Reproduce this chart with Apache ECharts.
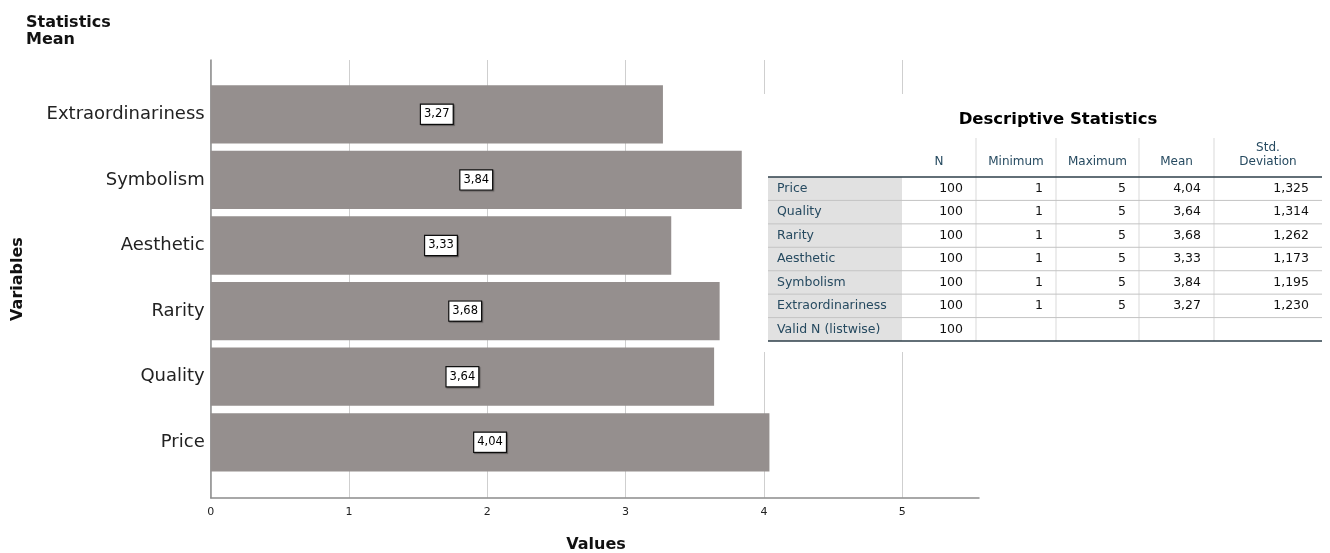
<!DOCTYPE html>
<html>
<head>
<meta charset="utf-8">
<script src="https://cdn.jsdelivr.net/npm/echarts@6/dist/echarts.min.js"></script>
<style>
  html, body { margin: 0; padding: 0; background: #fff; }
  #chart { width: 1330px; height: 553px; }
</style>
</head>
<body>
<div id="chart"></div>
<script>
// ---- Chart data ----
const categories = ['Price', 'Quality', 'Rarity', 'Aesthetic', 'Symbolism', 'Extraordinariness'];
const means = [4.04, 3.64, 3.68, 3.33, 3.84, 3.27];
const xTicks = [0, 1, 2, 3, 4, 5];

// ---- Table data ----
const tableTitle = 'Descriptive Statistics';
const tableHeaders = ['N', 'Minimum', 'Maximum', 'Mean', 'Std.\nDeviation'];
const tableRows = ['Price', 'Quality', 'Rarity', 'Aesthetic', 'Symbolism', 'Extraordinariness', 'Valid N (listwise)'];
const tableN = ['100', '100', '100', '100', '100', '100', '100'];
const tableMin = ['1', '1', '1', '1', '1', '1', ''];
const tableMax = ['5', '5', '5', '5', '5', '5', ''];
const tableMean = ['4,04', '3,64', '3,68', '3,33', '3,84', '3,27', ''];
const tableStd = ['1,325', '1,314', '1,262', '1,173', '1,195', '1,230', ''];

const FONT = 'DejaVu Sans';
const chart = echarts.init(document.getElementById('chart'), null, { renderer: 'canvas' });

// Plot geometry
const plotLeft = 210.7, plotTop = 60, plotBottom = 497.7;
const unit = 138.3;
const axisEnd = 979;

// ---- Build table graphic ----
const colX = [768, 902, 976, 1056, 1139, 1214, 1322];
const headTop = 138, headLine = 177, rowH = 23.43;
const headColor = '#264a60';
const g = [];
g.push({ type: 'rect', shape: { x: 761, y: 94, width: 565, height: 258 }, style: { fill: '#fff' }, z: 10 });
g.push({ type: 'text', x: 1058, y: 120, z: 11, style: { text: tableTitle, font: 'bold 16.5px ' + FONT, fill: '#000', align: 'center', verticalAlign: 'middle' } });
// header vertical dividers
for (let c = 2; c <= 5; c++) {
  g.push({ type: 'line', z: 11, shape: { x1: colX[c], y1: headTop, x2: colX[c], y2: headLine + rowH * tableRows.length }, style: { stroke: '#d9d9d9', lineWidth: 1 } });
}
// header labels
tableHeaders.forEach((h, i) => {
  const cx = (colX[i + 1] + colX[i + 2]) / 2;
  g.push({ type: 'text', x: cx, y: 169, z: 11, style: { text: h, font: '12px ' + FONT, fill: headColor, align: 'center', verticalAlign: 'bottom', lineHeight: 14 } });
});
// row header gray background
g.push({ type: 'rect', z: 10.5, shape: { x: colX[0], y: headLine, width: colX[1] - colX[0], height: rowH * tableRows.length }, style: { fill: '#e1e1e1' } });
// rows
const cols = [tableN, tableMin, tableMax, tableMean, tableStd];
tableRows.forEach((r, i) => {
  const yc = headLine + rowH * i + rowH / 2;
  g.push({ type: 'text', x: 777, y: yc, z: 11, style: { text: r, font: '12.5px ' + FONT, fill: headColor, align: 'left', verticalAlign: 'middle' } });
  cols.forEach((col, c) => {
    g.push({ type: 'text', x: colX[c + 2] - 13, y: yc, z: 11, style: { text: col[i], font: '12.5px ' + FONT, fill: '#111', align: 'right', verticalAlign: 'middle' } });
  });
  if (i > 0) {
    const yl = headLine + rowH * i;
    g.push({ type: 'line', z: 11, shape: { x1: colX[0], y1: yl, x2: colX[6], y2: yl }, style: { stroke: '#c4c4c4', lineWidth: 1 } });
  }
});
g.push({ type: 'line', z: 12, shape: { x1: colX[0], y1: headLine, x2: colX[6], y2: headLine }, style: { stroke: '#2e3f4a', lineWidth: 1.5 } });
const bottomY = headLine + rowH * tableRows.length;
g.push({ type: 'line', z: 12, shape: { x1: colX[0], y1: bottomY, x2: colX[6], y2: bottomY }, style: { stroke: '#2e3f4a', lineWidth: 1.5 } });

// axis titles
g.push({ type: 'text', x: 596, y: 545, z: 5, style: { text: 'Values', font: 'bold 16px ' + FONT, fill: '#111', align: 'center', verticalAlign: 'middle' } });
g.push({ type: 'text', x: 18, y: 279, rotation: Math.PI / 2, z: 5, style: { text: 'Variables', font: 'bold 16px ' + FONT, fill: '#111', align: 'center', verticalAlign: 'middle' } });

const plotW5 = unit * 5;
const option = {
  animation: false,
  backgroundColor: '#fff',
  title: {
    text: 'Statistics\nMean',
    left: 21, top: 9,
    textStyle: { fontFamily: FONT, fontWeight: 'bold', fontSize: 16, color: '#111', lineHeight: 17 }
  },
  grid: [
    { left: plotLeft, top: plotTop, width: axisEnd - plotLeft, height: plotBottom - plotTop },
    { left: plotLeft, top: plotTop, width: plotW5, height: plotBottom - plotTop },
    { left: plotLeft, top: 81.5, width: plotW5, height: 393.6 }
  ],
  xAxis: [
    { gridIndex: 0, type: 'value', min: 0, max: (axisEnd - plotLeft) / unit,
      axisLine: { show: true, lineStyle: { color: '#8c8c8c', width: 1.5 } },
      axisTick: { show: false }, axisLabel: { show: false }, splitLine: { show: false } },
    { gridIndex: 1, type: 'value', min: xTicks[0], max: xTicks[xTicks.length - 1], interval: 1,
      axisLine: { show: false }, axisTick: { show: false },
      axisLabel: { show: true, fontFamily: FONT, fontSize: 11, color: '#222', margin: 9 },
      splitLine: { show: true, lineStyle: { color: '#cfcfcf', width: 1 } } },
    { gridIndex: 2, type: 'value', min: 0, max: 5, show: false }
  ],
  yAxis: [
    { gridIndex: 0, type: 'value', min: 0, max: 1,
      axisLine: { show: true, lineStyle: { color: '#8c8c8c', width: 1.5 } },
      axisTick: { show: false }, axisLabel: { show: false }, splitLine: { show: false } },
    { gridIndex: 1, type: 'value', show: false },
    { gridIndex: 2, type: 'category', data: categories,
      axisLine: { show: false }, axisTick: { show: false },
      axisLabel: { fontFamily: FONT, fontSize: 18, color: '#222', margin: 6 } }
  ],
  series: [{
    type: 'bar',
    xAxisIndex: 2, yAxisIndex: 2,
    data: means,
    barWidth: 58.3,
    itemStyle: { color: '#958f8e' },
    label: {
      show: true, position: 'inside',
      formatter: p => p.value.toFixed(2).replace('.', ','),
      fontFamily: FONT, fontSize: 11.5, color: '#000',
      backgroundColor: '#fff', borderColor: '#111', borderWidth: 1.2,
      padding: [4, 3, 3, 3],
      shadowColor: 'rgba(0,0,0,0.35)', shadowOffsetX: 1, shadowOffsetY: 1, shadowBlur: 1
    },
    z: 3
  }],
  graphic: { elements: g }
};
chart.setOption(option);
</script>
</body>
</html>
